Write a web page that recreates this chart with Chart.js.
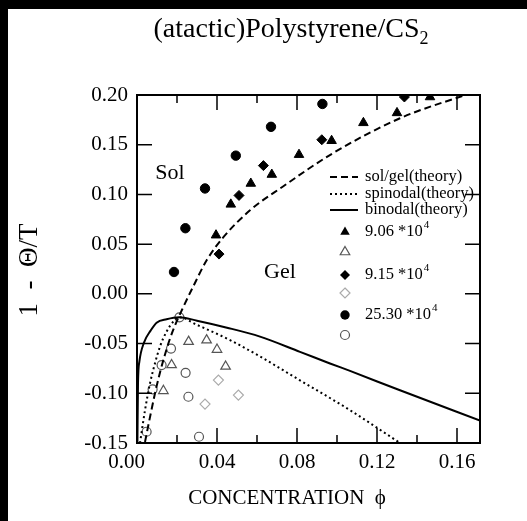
<!DOCTYPE html>
<html>
<head>
<meta charset="utf-8">
<script src="https://cdn.jsdelivr.net/npm/chart.js@4.4.0/dist/chart.umd.min.js"></script>
<style>
  html, body { margin: 0; padding: 0; background: #fff; overflow: hidden; }
  #barLeft { position: absolute; left: 0; top: 0; width: 8px; height: 521px; background: #000; }
  #barTop { position: absolute; left: 0; top: 0; width: 527px; height: 9px; background: #000; }
  #wrap { position: absolute; left: 8px; top: 9px; width: 519px; height: 512px; background: #fff; }
  canvas { display: block; }
</style>
</head>
<body>
<div id="barLeft"></div>
<div id="barTop"></div>
<div id="wrap"><canvas id="phaseChart" width="519" height="512"></canvas></div>
<script>
// theory curves (concentration phi, 1 - theta/T)
const solGelX = [0.004, 0.0065, 0.009, 0.0115, 0.014, 0.0165, 0.0198, 0.0225, 0.028, 0.0349, 0.043, 0.0565, 0.073, 0.098, 0.1315, 0.1665];
const solGelY = [-0.149, -0.124, -0.100, -0.079, -0.061, -0.045, -0.028, -0.016, 0.007, 0.034, 0.0565, 0.084, 0.108, 0.1415, 0.1766, 0.2017];
const spinodalX = [0.0015, 0.004, 0.0065, 0.009, 0.0115, 0.0148, 0.0182, 0.0212, 0.0298, 0.0465, 0.0615, 0.0815, 0.1065, 0.1315];
const spinodalY = [-0.150, -0.117, -0.090, -0.0697, -0.053, -0.0379, -0.0278, -0.0235, -0.031, -0.0465, -0.063, -0.087, -0.117, -0.150];
const binodalX = [0.0002, 0.0005, 0.0012, 0.0035, 0.0068, 0.0098, 0.0148, 0.021, 0.030, 0.045, 0.0615, 0.0815, 0.0965, 0.1065, 0.1315, 0.1715];
const binodalY = [-0.150, -0.090, -0.068, -0.049, -0.037, -0.029, -0.0255, -0.0235, -0.027, -0.034, -0.043, -0.0583, -0.070, -0.0775, -0.097, -0.1275];

// measured points: sol (filled) and gel (open) for each molecular weight
const sol906X = [0.0395, 0.0469, 0.0569, 0.0674, 0.081, 0.0973, 0.1132, 0.130, 0.1465];
const sol906Y = [0.059, 0.090, 0.111, 0.120, 0.140, 0.154, 0.172, 0.182, 0.198];
const gel906X = [0.0258, 0.0348, 0.040, 0.0443, 0.0173, 0.0132];
const gel906Y = [-0.048, -0.0465, -0.056, -0.073, -0.0715, -0.0975];
const sol915X = [0.041, 0.051, 0.0632, 0.0924, 0.1337];
const sol915Y = [0.040, 0.099, 0.129, 0.155, 0.198];
const gel915X = [0.0407, 0.0507, 0.034];
const gel915Y = [-0.0867, -0.1018, -0.1109];
const sol2530X = [0.0185, 0.0242, 0.034, 0.0494, 0.067, 0.0927];
const sol2530Y = [0.022, 0.066, 0.106, 0.139, 0.168, 0.191];
const gel2530X = [0.0212, 0.017, 0.0123, 0.0243, 0.0078, 0.0257, 0.0048, 0.031];
const gel2530Y = [-0.0236, -0.055, -0.0716, -0.0794, -0.096, -0.1035, -0.1387, -0.1437];

const xMajorTicks = [0.04, 0.08, 0.12, 0.16];
const xMinorTicks = [0.02, 0.06, 0.10, 0.14];
const yTicks = [-0.10, -0.05, 0.00, 0.05, 0.10, 0.15];

const serif = 'Liberation Serif';

function pts(xs, ys) {
    return xs.map((x, i) => ({ x: x, y: ys[i] }));
}

function curve(label, xs, ys, dash) {
    return {
        label: label,
        data: pts(xs, ys),
        showLine: true,
        borderColor: '#000',
        borderWidth: 2,
        borderDash: dash,
        pointRadius: 0,
        cubicInterpolationMode: 'monotone',
        fill: false
    };
}

function marks(label, xs, ys, style, radius, filled, color) {
    return {
        label: label,
        data: pts(xs, ys),
        showLine: false,
        pointStyle: style,
        pointRadius: radius,
        pointBackgroundColor: filled ? '#000' : 'rgba(0,0,0,0)',
        pointBorderColor: color,
        pointBorderWidth: filled ? 1 : 1.2
    };
}

function drawSymbol(ctx, style, x, y, r, filled, color) {
    ctx.beginPath();
    if (style === 'triangle') {
        ctx.moveTo(x, y - r);
        ctx.lineTo(x + r * 0.866, y + r * 0.5);
        ctx.lineTo(x - r * 0.866, y + r * 0.5);
        ctx.closePath();
    } else if (style === 'rectRot') {
        ctx.moveTo(x, y - r);
        ctx.lineTo(x + r, y);
        ctx.lineTo(x, y + r);
        ctx.lineTo(x - r, y);
        ctx.closePath();
    } else {
        ctx.arc(x, y, r, 0, Math.PI * 2);
    }
    if (filled) {
        ctx.fillStyle = '#000';
        ctx.fill();
    } else {
        ctx.strokeStyle = color;
        ctx.lineWidth = 1.2;
        ctx.stroke();
    }
}

const framePlugin = {
    id: 'frame',
    afterDatasetsDraw(chart) {
        const ctx = chart.ctx;
        const a = chart.chartArea;
        const xs = chart.scales.x;
        const ys = chart.scales.y;
        ctx.save();
        ctx.strokeStyle = '#000';
        ctx.lineWidth = 1.5;
        ctx.beginPath();
        xMajorTicks.concat(xMinorTicks).forEach(v => {
            const px = xs.getPixelForValue(v);
            const len = xMajorTicks.includes(v) ? 15 : 8;
            ctx.moveTo(px, a.bottom);
            ctx.lineTo(px, a.bottom - len);
            ctx.moveTo(px, a.top);
            ctx.lineTo(px, a.top + len);
        });
        yTicks.forEach(v => {
            const py = ys.getPixelForValue(v);
            ctx.moveTo(a.left, py);
            ctx.lineTo(a.left + 15, py);
            ctx.moveTo(a.right, py);
            ctx.lineTo(a.right - 15, py);
        });
        ctx.stroke();
        ctx.lineWidth = 2;
        ctx.strokeRect(a.left, a.top, a.right - a.left, a.bottom - a.top);
        ctx.restore();
    },
    afterDraw(chart) {
        const ctx = chart.ctx;
        const xs = chart.scales.x;
        const ys = chart.scales.y;
        ctx.save();
        ctx.fillStyle = '#000';
        ctx.textBaseline = 'middle';

        // title with subscript
        ctx.font = '28px "' + serif + '"';
        const main = '(atactic)Polystyrene/CS';
        const w1 = ctx.measureText(main).width;
        ctx.font = '18px "' + serif + '"';
        const w2 = ctx.measureText('2').width;
        let tx = 283 - (w1 + w2) / 2;
        ctx.font = '28px "' + serif + '"';
        ctx.textAlign = 'left';
        ctx.fillText(main, tx, 21);
        ctx.font = '18px "' + serif + '"';
        ctx.fillText('2', tx + w1, 30);

        // axis titles
        ctx.textAlign = 'center';
        ctx.font = '21px "' + serif + '"';
        ctx.fillText('CONCENTRATION  \u03D5', 279, 489);
        ctx.save();
        ctx.translate(22, 261);
        ctx.rotate(-Math.PI / 2);
        ctx.font = '27px "' + serif + '"';
        ctx.fillText('1  -  \u0398/T', 0, 0);
        ctx.restore();

        // region labels
        ctx.font = '22px "' + serif + '"';
        ctx.fillText('Sol', xs.getPixelForValue(0.0165), ys.getPixelForValue(0.121));
        ctx.fillText('Gel', xs.getPixelForValue(0.0715), ys.getPixelForValue(0.022));

        // legend
        ctx.textAlign = 'left';
        ctx.font = '16.5px "' + serif + '"';
        const lines = [
            ['sol/gel(theory)', [7, 4], 168],
            ['spinodal(theory)', [2, 3], 185],
            ['binodal(theory)', [], 201]
        ];
        lines.forEach(l => {
            ctx.setLineDash(l[1]);
            ctx.lineWidth = 2;
            ctx.strokeStyle = '#000';
            ctx.beginPath();
            ctx.moveTo(322, l[2]);
            ctx.lineTo(350, l[2]);
            ctx.stroke();
            ctx.fillText(l[0], 357, l[2]);
        });
        ctx.setLineDash([]);
        const syms = [
            ['triangle', true, '#000', 5.5, '9.06 *10', 223],
            ['triangle', false, '#555', 5.5, '', 243],
            ['rectRot', true, '#000', 5, '9.15 *10', 266],
            ['rectRot', false, '#aaa', 5, '', 284],
            ['circle', true, '#000', 4.7, '25.30 *10', 306],
            ['circle', false, '#555', 4.5, '', 326]
        ];
        syms.forEach(s => {
            drawSymbol(ctx, s[0], 337, s[5], s[3], s[1], s[2]);
            if (s[4]) {
                ctx.fillStyle = '#000';
                ctx.font = '16.5px "' + serif + '"';
                ctx.fillText(s[4], 357, s[5]);
                const w = ctx.measureText(s[4]).width;
                ctx.font = '11px "' + serif + '"';
                ctx.fillText('4', 358 + w, s[5] - 7);
            }
        });
        ctx.restore();
    }
};

const tickFont = { family: serif, size: 21 };

new Chart(document.getElementById('phaseChart').getContext('2d'), {
    type: 'scatter',
    data: {
        datasets: [
            curve('sol/gel(theory)', solGelX, solGelY, [7, 4]),
            curve('spinodal(theory)', spinodalX, spinodalY, [2, 3]),
            curve('binodal(theory)', binodalX, binodalY, []),
            marks('9.06 *10^4 sol', sol906X, sol906Y, 'triangle', 5.5, true, '#000'),
            marks('9.06 *10^4 gel', gel906X, gel906Y, 'triangle', 5.5, false, '#555'),
            marks('9.15 *10^4 sol', sol915X, sol915Y, 'rectRot', 5, true, '#000'),
            marks('9.15 *10^4 gel', gel915X, gel915Y, 'rectRot', 5, false, '#aaa'),
            marks('25.30 *10^4 sol', sol2530X, sol2530Y, 'circle', 4.7, true, '#000'),
            marks('25.30 *10^4 gel', gel2530X, gel2530Y, 'circle', 4.5, false, '#555')
        ]
    },
    options: {
        responsive: false,
        animation: false,
        layout: { padding: { top: 86, right: 47, bottom: 0, left: 0 } },
        plugins: {
            legend: { display: false },
            tooltip: { enabled: false },
            title: { display: false }
        },
        scales: {
            x: {
                type: 'linear',
                min: 0,
                max: 0.1715,
                grid: { display: false, drawTicks: false },
                border: { display: false },
                ticks: {
                    stepSize: 0.04,
                    includeBounds: false,
                    padding: 7,
                    color: '#000',
                    font: tickFont,
                    maxRotation: 0,
                    callback: function (v) {
                        return v === 0 ? '0.00    ' : v.toFixed(2);
                    }
                },
                afterFit: function (scale) { scale.height = 78; }
            },
            y: {
                type: 'linear',
                min: -0.15,
                max: 0.20,
                grid: { display: false, drawTicks: false },
                border: { display: false },
                ticks: {
                    stepSize: 0.05,
                    padding: 9,
                    color: '#000',
                    font: tickFont,
                    callback: function (v) {
                        return v.toFixed(2);
                    }
                },
                afterFit: function (scale) { scale.width = 129; }
            }
        }
    },
    plugins: [framePlugin]
});
</script>
</body>
</html>
